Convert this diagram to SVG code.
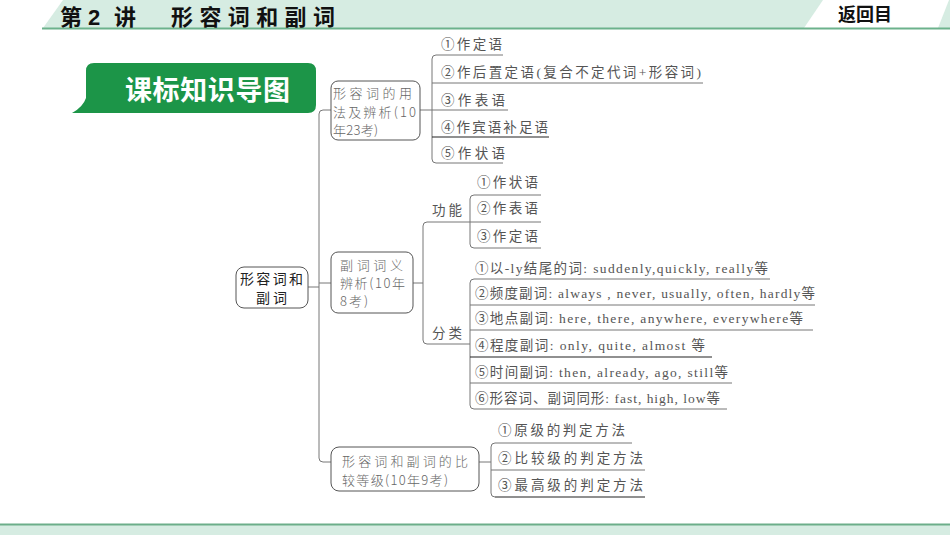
<svg xmlns="http://www.w3.org/2000/svg" width="950" height="535" viewBox="0 0 950 535">
<style>
.bg{fill:#d6ece2}
.box{fill:#fff;stroke:#555;stroke-width:1}
.ln{fill:none;stroke:#777;stroke-width:1}
.dk{fill:none;stroke:#222;stroke-width:1.2}
.t{font-family:"Liberation Serif","Noto Sans CJK SC",serif;font-size:13.5px;fill:#555}
.bt{font-family:"Noto Sans CJK SC",sans-serif;font-size:13px;fill:#666;font-weight:300}
.rt{font-family:"Noto Sans CJK SC",sans-serif;font-size:14px;fill:#222}
</style>
<!-- header -->
<rect class="bg" x="0" y="0" width="950" height="28"/>
<polygon points="0,0 63,0 43,28 0,28" fill="#fff"/>
<polygon points="823,0 949,0 938,28 804,28" fill="#fff"/>
<line x1="42" y1="28.5" x2="950" y2="28.5" stroke="#6cb28c" stroke-width="2"/>
<g font-family="Noto Sans CJK SC, sans-serif" font-weight="bold" font-size="22" fill="#111">
<text x="60" y="25">第</text>
<text x="88" y="25" font-family="Liberation Sans, sans-serif">2</text>
<text x="114" y="25">讲</text>
<text x="171" y="25" textLength="164" lengthAdjust="spacing">形容词和副词</text>
</g>
<text x="838" y="21" font-family="Noto Sans CJK SC, sans-serif" font-weight="bold" font-size="18" fill="#111">返回目</text>
<!-- footer -->
<rect class="bg" x="0" y="525" width="950" height="10"/>
<line x1="0" y1="524.5" x2="950" y2="524.5" stroke="#6cae8a" stroke-width="2"/>
<!-- title bubble -->
<g id="title">
<path d="M94,63 H308 Q316,63 316,71 V105 Q316,113 308,113 H72 Q83,107 86,98 V71 Q86,63 94,63 Z" fill="#1c9548"/>
<text x="125" y="100" font-family="Noto Sans CJK SC, sans-serif" font-weight="bold" font-size="27" fill="#fff" textLength="165" lengthAdjust="spacing">课标知识导图</text>
</g>
<!-- connectors -->
<g id="connectors">
<path class="ln" d="M308,287 H319 M331,110 H323 Q319,110 319,114 V458 Q319,462 323,462 H331 M319,283 H331"/>
<path class="ln" d="M420,110 H432"/>
<path class="ln" d="M503,55 H436 Q432,55 432,59 V159 Q432,163 436,163 H503 M432,83 H703 M432,110 H508"/>
<path class="dk" d="M432,137 H549"/>
<path class="ln" d="M413,283 H423 M470,222 H427 Q423,222 423,226 V340 Q423,344 427,344 H470"/>
<path class="ln" d="M541,195 H474 Q470,195 470,199 V244 Q470,248 474,248 H541 M470,222 H541"/>
<path class="ln" d="M770,279 H474 Q470,279 470,283 V405 Q470,409 474,409 H727 M470,305 H815 M470,330 H813 M470,383 H732"/>
<path class="dk" d="M470,357 H712"/>
<path class="ln" d="M479,462 H491"/>
<path class="ln" d="M632,443 H495 Q491,443 491,447 V493 Q491,497 495,497 M491,470 H645"/>
<path class="dk" d="M495,497 H645"/>
</g>
<!-- nodes -->
<g id="root">
<rect class="box" x="236" y="267" width="72" height="41" rx="8"/>
<text class="rt" x="240" y="284" textLength="63" lengthAdjust="spacing">形容词和</text>
<text class="rt" x="256" y="303" textLength="31" lengthAdjust="spacing">副词</text>
</g>
<g id="adj">
<rect class="box" x="331" y="81" width="89" height="59" rx="7"/>
<text class="bt" x="333" y="98" textLength="79" lengthAdjust="spacing">形容词的用</text>
<text class="bt" x="333" y="117" textLength="83" lengthAdjust="spacing">法及辨析(10</text>
<text class="bt" x="333" y="135" textLength="45" lengthAdjust="spacing">年23考)</text>
</g>
<g id="adj-items">
<text class="t" x="441" y="49" textLength="61" lengthAdjust="spacing">①作定语</text>
<text class="t" x="441" y="77" textLength="260" lengthAdjust="spacing">②作后置定语(复合不定代词+形容词)</text>
<text class="t" x="441" y="105" textLength="64" lengthAdjust="spacing">③作表语</text>
<text class="t" x="441" y="132" textLength="107" lengthAdjust="spacing">④作宾语补足语</text>
<text class="t" x="441" y="158" textLength="64" lengthAdjust="spacing">⑤作状语</text>
</g>
<g id="adv">
<rect class="box" x="331" y="252" width="82" height="61" rx="7"/>
<text class="bt" x="340" y="270" textLength="63" lengthAdjust="spacing">副词词义</text>
<text class="bt" x="340" y="288" textLength="65" lengthAdjust="spacing">辨析(10年</text>
<text class="bt" x="340" y="306" textLength="28" lengthAdjust="spacing">8考)</text>
</g>
<g id="func">
<text class="t" x="432" y="215" textLength="30" lengthAdjust="spacing">功能</text>
<text class="t" x="477" y="187" textLength="61" lengthAdjust="spacing">①作状语</text>
<text class="t" x="477" y="213" textLength="61" lengthAdjust="spacing">②作表语</text>
<text class="t" x="477" y="241" textLength="61" lengthAdjust="spacing">③作定语</text>
</g>
<g id="cls">
<text class="t" x="432" y="338" textLength="30" lengthAdjust="spacing">分类</text>
<text class="t" x="475" y="273" textLength="293" lengthAdjust="spacing">①以-ly结尾的词: suddenly,quickly, really等</text>
<text class="t" x="475" y="298" textLength="340" lengthAdjust="spacing">②频度副词: always , never, usually, often, hardly等</text>
<text class="t" x="475" y="323" textLength="328" lengthAdjust="spacing">③地点副词: here, there, anywhere, everywhere等</text>
<text class="t" x="475" y="350" textLength="230" lengthAdjust="spacing">④程度副词: only, quite, almost 等</text>
<text class="t" x="475" y="377" textLength="253" lengthAdjust="spacing">⑤时间副词: then, already, ago, still等</text>
<text class="t" x="475" y="403" textLength="245" lengthAdjust="spacing">⑥形容词、副词同形: fast, high, low等</text>
</g>
<g id="cmp">
<rect class="box" x="331" y="447" width="148" height="44" rx="8"/>
<text class="bt" x="342" y="466" textLength="126" lengthAdjust="spacing">形容词和副词的比</text>
<text class="bt" x="342" y="485" textLength="106" lengthAdjust="spacing">较等级(10年9考)</text>
</g>
<g id="cmp-items">
<text class="t" x="498" y="435" textLength="127" lengthAdjust="spacing">①原级的判定方法</text>
<text class="t" x="498" y="463" textLength="145" lengthAdjust="spacing">②比较级的判定方法</text>
<text class="t" x="498" y="490" textLength="145" lengthAdjust="spacing">③最高级的判定方法</text>
</g>
</svg>
